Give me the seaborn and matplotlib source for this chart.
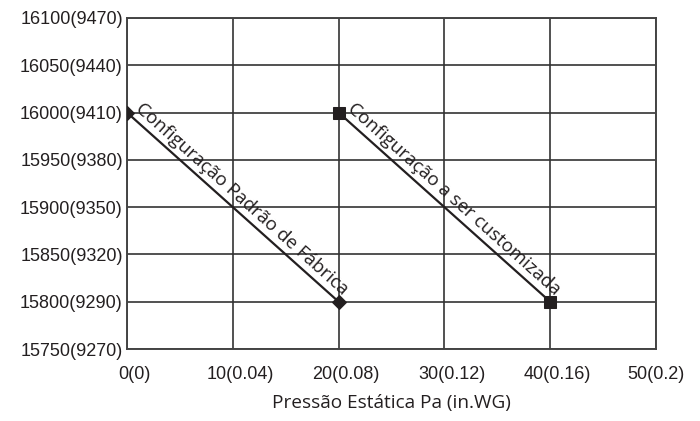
import numpy as np
import pandas as pd
import matplotlib
matplotlib.use("Agg")
import matplotlib.pyplot as plt
import matplotlib.transforms as mtrans
import seaborn as sns

# values
pressure_pa = [0, 10, 20, 30, 40, 50]
pressure_in = ["0", "0.04", "0.08", "0.12", "0.16", "0.2"]
speed_ticks = [15750, 15800, 15850, 15900, 15950, 16000, 16050, 16100]
speed_alt = [9270, 9290, 9320, 9350, 9380, 9410, 9440, 9470]

factory_x = [0, 20]
factory_y = [16000, 15800]
custom_x = [20, 40]
custom_y = [16000, 15800]

factory_label = "Configuração Padrão de Fábrica"
custom_label = "Configuração a ser customizada"
x_title = "Pressão Estática Pa (in.WG)"

sns.set_style("white")
plt.rcParams['font.family'] = ['Liberation Sans', 'DejaVu Sans']

ink = "#231f20"
fig = plt.figure(figsize=(7, 4.21), dpi=100)
ax = fig.add_axes([127 / 700, 72 / 421, 529 / 700, 331 / 421])

df_f = pd.DataFrame({"x": factory_x, "y": factory_y})
df_c = pd.DataFrame({"x": custom_x, "y": custom_y})
sns.lineplot(data=df_f, x="x", y="y", ax=ax, color=ink, lw=1.6,
             marker="D", markersize=7, markeredgecolor=ink, zorder=5)
sns.lineplot(data=df_c, x="x", y="y", ax=ax, color=ink, lw=1.6,
             marker="s", markersize=9, markeredgecolor=ink, zorder=5)

ax.set_xlim(0, 50)
ax.set_ylim(15750, 16100)
ax.set_xticks(pressure_pa)
ax.set_xticklabels([f"{a}({b})" for a, b in zip(pressure_pa, pressure_in)])
ax.set_yticks(speed_ticks)
ax.set_yticklabels([f"{a}({b})" for a, b in zip(speed_ticks, speed_alt)])
ax.tick_params(axis="both", labelsize=13, colors=ink, length=0)
ax.tick_params(axis="y", pad=3)
ax.tick_params(axis="x", pad=12)
ax.grid(True, color="#333333", lw=1.2)
for s in ax.spines.values():
    s.set_color("#444444")
    s.set_linewidth(1.4)

# x tick labels in the reference sit a little right of their ticks
shifts = [7.5, 7.5, 7.5, 7.5, 7.5, 0]
for lab, sh in zip(ax.get_xticklabels(), shifts):
    lab.set_transform(lab.get_transform() +
                      mtrans.ScaledTranslation(sh / 100, 0, fig.dpi_scale_trans))

ax.set_xlabel(x_title, fontsize=13.7, family=["Open Sans", "DejaVu Sans"],
              color=ink, labelpad=8)
ax.set_ylabel("")

fig.canvas.draw()


def line_label(xs, ys, text):
    p0 = ax.transData.transform((xs[0], ys[0]))
    p1 = ax.transData.transform((xs[1], ys[1]))
    ang = np.degrees(np.arctan2(p1[1] - p0[1], p1[0] - p0[0]))
    t = np.radians(ang)
    along, up = 4, 7
    dx = along * np.cos(t) - up * np.sin(t)
    dy = along * np.sin(t) + up * np.cos(t)
    ax.annotate(text, xy=(xs[0], ys[0]), xytext=(dx * 0.72, dy * 0.72),
                textcoords="offset points", rotation=ang,
                rotation_mode="anchor", ha="left", va="baseline",
                fontsize=13.5, color=ink, family=["Open Sans", "DejaVu Sans"])


line_label(factory_x, factory_y, factory_label)
line_label(custom_x, custom_y, custom_label)

fig.savefig("out.png", dpi=100)
